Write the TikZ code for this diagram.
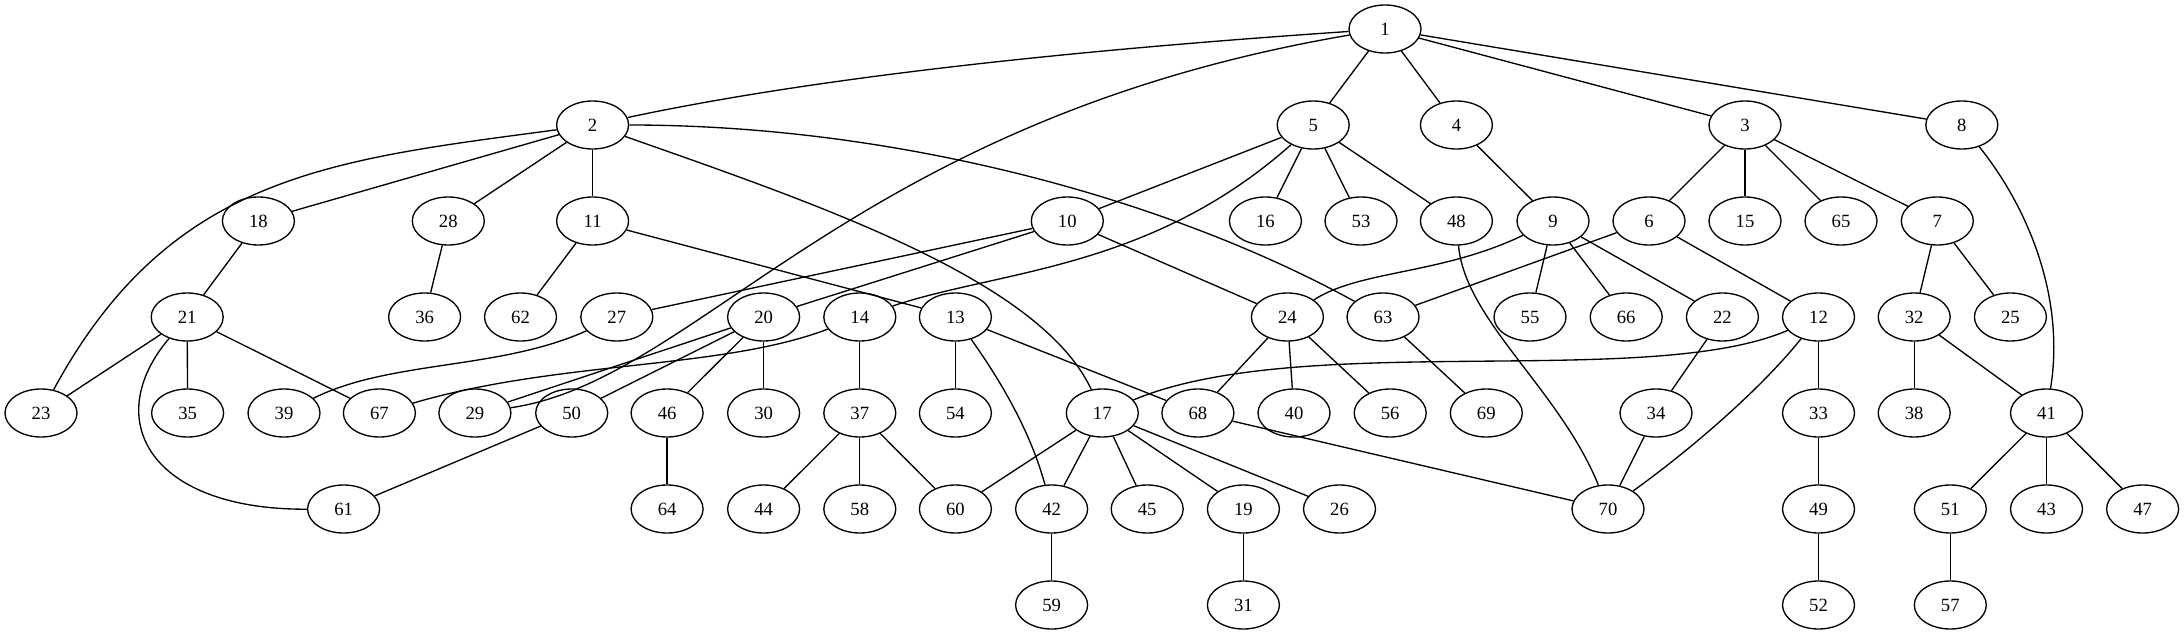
\documentclass[tikz,border=0pt]{standalone}
\usepackage{fontspec}
\setmainfont{Liberation Serif}
\usetikzlibrary{shapes.geometric}
\begin{document}
\begin{tikzpicture}[x=0.75pt, y=-0.75pt, line width=1pt,
	vertex/.style={ellipse, draw, minimum width=54pt, minimum height=36pt, inner sep=0pt, font=\fontsize{14}{16}\selectfont}]
	\useasboundingbox (0,0) rectangle (2184,635);
	\node[vertex] (n1) at (1385,29) {1};
	\node[vertex] (n2) at (592.6,125) {2};
	\node[vertex] (n5) at (1313.2,125) {5};
	\node[vertex] (n4) at (1456.4,125) {4};
	\node[vertex] (n3) at (1745,125) {3};
	\node[vertex] (n8) at (1961.8,125) {8};
	\node[vertex] (n18) at (258.4,221) {18};
	\node[vertex] (n28) at (448.3,221) {28};
	\node[vertex] (n11) at (592.6,221) {11};
	\node[vertex] (n10) at (1067.3,221) {10};
	\node[vertex] (n16) at (1265.4,221) {16};
	\node[vertex] (n53) at (1361,221) {53};
	\node[vertex] (n48) at (1456.4,221) {48};
	\node[vertex] (n9) at (1553,221) {9};
	\node[vertex] (n6) at (1649,221) {6};
	\node[vertex] (n15) at (1745,221) {15};
	\node[vertex] (n65) at (1841,221) {65};
	\node[vertex] (n7) at (1937.3,221) {7};
	\node[vertex] (n21) at (187.2,317) {21};
	\node[vertex] (n36) at (424.6,317) {36};
	\node[vertex] (n62) at (520.5,317) {62};
	\node[vertex] (n27) at (616.8,317) {27};
	\node[vertex] (n20) at (763.6,317) {20};
	\node[vertex] (n14) at (859.8,317) {14};
	\node[vertex] (n13) at (955.4,317) {13};
	\node[vertex] (n24) at (1287.4,317) {24};
	\node[vertex] (n63) at (1383,317) {63};
	\node[vertex] (n55) at (1530,317) {55};
	\node[vertex] (n66) at (1626.2,317) {66};
	\node[vertex] (n22) at (1722.4,317) {22};
	\node[vertex] (n12) at (1818.5,317) {12};
	\node[vertex] (n32) at (1914.2,317) {32};
	\node[vertex] (n25) at (2010.4,317) {25};
	\node[vertex] (n23) at (41,413) {23};
	\node[vertex] (n35) at (187.6,413) {35};
	\node[vertex] (n39) at (284,413) {39};
	\node[vertex] (n67) at (379.4,413) {67};
	\node[vertex] (n29) at (474.9,413) {29};
	\node[vertex] (n50) at (571.7,413) {50};
	\node[vertex] (n46) at (667.1,413) {46};
	\node[vertex] (n30) at (763.6,413) {30};
	\node[vertex] (n37) at (859.8,413) {37};
	\node[vertex] (n54) at (955.4,413) {54};
	\node[vertex] (n17) at (1102.3,413) {17};
	\node[vertex] (n68) at (1197.9,413) {68};
	\node[vertex] (n40) at (1294,413) {40};
	\node[vertex] (n56) at (1390.2,413) {56};
	\node[vertex] (n69) at (1486.3,413) {69};
	\node[vertex] (n34) at (1656,413) {34};
	\node[vertex] (n33) at (1818.5,413) {33};
	\node[vertex] (n38) at (1914.2,413) {38};
	\node[vertex] (n41) at (2046.5,413) {41};
	\node[vertex] (n61) at (343.6,509) {61};
	\node[vertex] (n64) at (667.1,509) {64};
	\node[vertex] (n44) at (763.6,509) {44};
	\node[vertex] (n58) at (859.8,509) {58};
	\node[vertex] (n60) at (955.4,509) {60};
	\node[vertex] (n42) at (1051.6,509) {42};
	\node[vertex] (n45) at (1147.2,509) {45};
	\node[vertex] (n19) at (1243.4,509) {19};
	\node[vertex] (n26) at (1339.5,509) {26};
	\node[vertex] (n70) at (1608,509) {70};
	\node[vertex] (n49) at (1818.5,509) {49};
	\node[vertex] (n51) at (1950.3,509) {51};
	\node[vertex] (n43) at (2046.5,509) {43};
	\node[vertex] (n47) at (2142.6,509) {47};
	\node[vertex] (n59) at (1051.6,605) {59};
	\node[vertex] (n31) at (1243.4,605) {31};
	\node[vertex] (n52) at (1818.5,605) {52};
	\node[vertex] (n57) at (1950.3,605) {57};
	\draw (n2) .. controls (850,70) and (1150,45) .. (n1);
	\draw (n1) -- (n5);
	\draw (n1) -- (n4);
	\draw (n1) -- (n3);
	\draw (n1) -- (n8);
	\draw (n1) .. controls (850,120) and (700,380) .. (n29);
	\draw (n2) -- (n18);
	\draw (n2) -- (n28);
	\draw (n2) -- (n11);
	\draw (n2) .. controls (330,160) and (170,175) .. (n23);
	\draw (n2) .. controls (820,205) and (1040,280) .. (n17);
	\draw (n2) .. controls (900,125) and (1170,200) .. (n63);
	\draw (n3) -- (n6);
	\draw (n3) -- (n15);
	\draw (n3) -- (n65);
	\draw (n3) -- (n7);
	\draw (n4) -- (n9);
	\draw (n5) -- (n10);
	\draw (n5) -- (n16);
	\draw (n5) -- (n53);
	\draw (n5) -- (n48);
	\draw (n5) .. controls (1150,270) and (1000,270) .. (n14);
	\draw (n6) -- (n63);
	\draw (n6) -- (n12);
	\draw (n7) -- (n32);
	\draw (n7) -- (n25);
	\draw (n8) .. controls (2030,210) and (2065,300) .. (n41);
	\draw (n9) .. controls (1440,275) and (1360,270) .. (n24);
	\draw (n9) -- (n55);
	\draw (n9) -- (n66);
	\draw (n9) -- (n22);
	\draw (n10) -- (n27);
	\draw (n10) -- (n20);
	\draw (n10) -- (n24);
	\draw (n11) -- (n62);
	\draw (n11) -- (n13);
	\draw (n12) .. controls (1650,390) and (1300,330) .. (n17);
	\draw (n12) -- (n33);
	\draw (n12) .. controls (1760,390) and (1690,450) .. (n70);
	\draw (n13) -- (n54);
	\draw (n13) .. controls (1000,380) and (1030,430) .. (n42);
	\draw (n13) -- (n68);
	\draw (n14) -- (n37);
	\draw (n14) .. controls (720,370) and (560,360) .. (n67);
	\draw (n17) -- (n60);
	\draw (n17) -- (n42);
	\draw (n17) -- (n45);
	\draw (n17) -- (n19);
	\draw (n17) -- (n26);
	\draw (n18) -- (n21);
	\draw (n19) -- (n31);
	\draw (n20) -- (n29);
	\draw (n20) -- (n50);
	\draw (n20) -- (n46);
	\draw (n20) -- (n30);
	\draw (n21) -- (n23);
	\draw (n21) -- (n35);
	\draw (n21) -- (n67);
	\draw (n21) .. controls (100,420) and (150,510) .. (n61);
	\draw (n22) -- (n34);
	\draw (n24) -- (n68);
	\draw (n24) -- (n40);
	\draw (n24) -- (n56);
	\draw (n27) .. controls (500,370) and (390,360) .. (n39);
	\draw (n28) -- (n36);
	\draw (n32) -- (n38);
	\draw (n32) -- (n41);
	\draw (n33) -- (n49);
	\draw (n34) -- (n70);
	\draw (n37) -- (n44);
	\draw (n37) -- (n58);
	\draw (n37) -- (n60);
	\draw (n41) -- (n51);
	\draw (n41) -- (n43);
	\draw (n41) -- (n47);
	\draw (n42) -- (n59);
	\draw (n46) -- (n64);
	\draw (n48) .. controls (1465,320) and (1560,390) .. (n70);
	\draw (n49) -- (n52);
	\draw (n50) -- (n61);
	\draw (n51) -- (n57);
	\draw (n63) -- (n69);
	\draw (n68) -- (n70);
\end{tikzpicture}
\end{document}
